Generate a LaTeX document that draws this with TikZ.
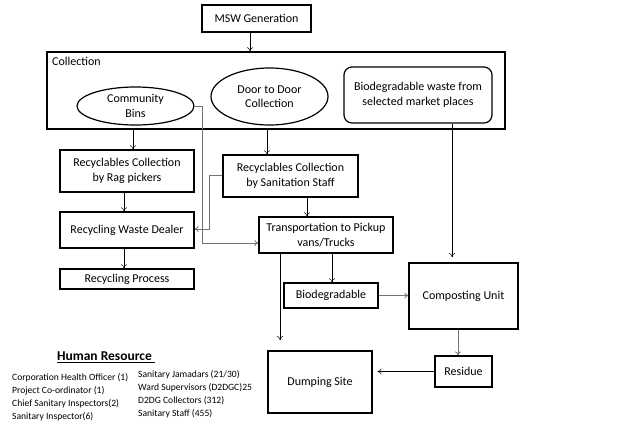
\documentclass[tikz,border=0pt]{standalone}
\usepackage{fontspec}
\setmainfont{Carlito}
\usetikzlibrary{arrows.meta,shapes.geometric,calc}
\begin{document}
\begin{tikzpicture}[x=1pt,y=-1pt,
  box/.style={draw,line width=1.2pt,rectangle,align=center,inner sep=1pt,font=\fontsize{12}{14.5}\selectfont},
  oval/.style={draw,line width=1.2pt,ellipse,align=center,inner sep=0pt,font=\fontsize{12}{14.5}\selectfont},
  arr/.style={-{To[length=4pt,width=6pt]},line width=0.5pt},
  garr/.style={-{To[length=4pt,width=6pt]},line width=0.8pt,draw=black!55},
  hr/.style={font=\fontsize{9.6}{12.9}\selectfont,align=left,anchor=north west,inner sep=0pt}]
\useasboundingbox (0,0) rectangle (624,424);
\node[box,minimum width=109pt,minimum height=27pt] (msw) at (256.5,18.5) {MSW Generation};
\node[draw,line width=1.5pt,minimum width=458pt,minimum height=77pt,inner sep=0pt] (coll) at (276,90.5) {};
\node[anchor=north west,inner sep=0pt,font=\fontsize{12}{14.5}\selectfont] (colllab) at (52,57) {Collection};
\node[oval,minimum width=117pt,minimum height=38pt] (bins) at (135.5,106) {Community\\Bins};
\node[oval,minimum width=117pt,minimum height=57pt] (d2d) at (269.5,96.5) {Door to Door\\Collection};
\node[box,rounded corners=8pt,minimum width=148pt,minimum height=56pt] (market) at (418,95) {Biodegradable waste from\\selected market places};
\node[box,minimum width=134pt,minimum height=42pt] (rag) at (127,171) {Recyclables Collection\\by Rag pickers};
\node[box,minimum width=135pt,minimum height=42pt] (san) at (290.5,176) {Recyclables Collection\\by Sanitation Staff};
\node[box,minimum width=134pt,minimum height=36pt] (dealer) at (127,230) {Recycling Waste Dealer};
\node[box,minimum width=134pt,minimum height=20pt] (proc) at (127,279) {Recycling Process};
\node[box,minimum width=134pt,minimum height=36pt] (trans) at (326,235) {Transportation to Pickup\\vans/Trucks};
\node[box,minimum width=94pt,minimum height=25pt] (bio) at (331,295.5) {Biodegradable};
\node[box,minimum width=109pt,minimum height=66pt] (comp) at (463.5,296) {Composting Unit};
\node[box,minimum width=57pt,minimum height=31pt] (res) at (463.5,371.5) {Residue};
\node[box,minimum width=104pt,minimum height=62pt] (dump) at (320,382) {Dumping Site};
\coordinate (dumpin) at (280,340);
\coordinate (compin) at (452,257);
% connectors
\draw[arr] (msw.south -| 250,0) -- (coll.north -| 250,0);
\draw[arr] (coll.south -| 133,0) -- (rag.north -| 133,0);
\draw[arr] (coll.south -| 267,0) -- (san.north -| 267,0);
\draw[arr] (market.south -| 452,0) -- (compin);
\draw[garr] (bins.east) -- (202,106) -- (202,243) -- (trans.west |- 0,243);
\draw[garr] (san.west |- 0,175) -- (209,175) -- (209,229) -- (dealer.east |- 0,229);
\draw[arr] (rag.south -| 124,0) -- (dealer.north -| 124,0);
\draw[arr] (dealer.south -| 124,0) -- (proc.north -| 124,0);
\draw[arr] (san.south -| 307,0) -- (trans.north -| 307,0);
\draw[arr] (trans.south -| 280,0) -- (dumpin);
\draw[arr] (trans.south -| 332,0) -- (bio.north -| 332,0);
\draw[garr] (bio.east) -- (comp.west |- bio.east);
\draw[garr] (comp.south -| 458,0) -- (res.north -| 458,0);
\draw[arr,shorten >=5pt] (res.west) -- (dump.east |- res.west);
% human resource
\node[inner sep=0pt,font=\bfseries\fontsize{13.5}{16}\selectfont] (hrt) at (106,357) {\underline{Human Resource\ }};
\node[hr] (hr1) at (12,373.5) {Corporation Health Officer (1)\\Project Co-ordinator (1)\\Chief Sanitary Inspectors(2)\\Sanitary Inspector(6)};
\node[hr] (hr2) at (138,370.5) {Sanitary Jamadars (21/30)\\Ward Supervisors (D2DGC)25\\D2DG Collectors (312)\\Sanitary Staff (455)};
\end{tikzpicture}
\end{document}
